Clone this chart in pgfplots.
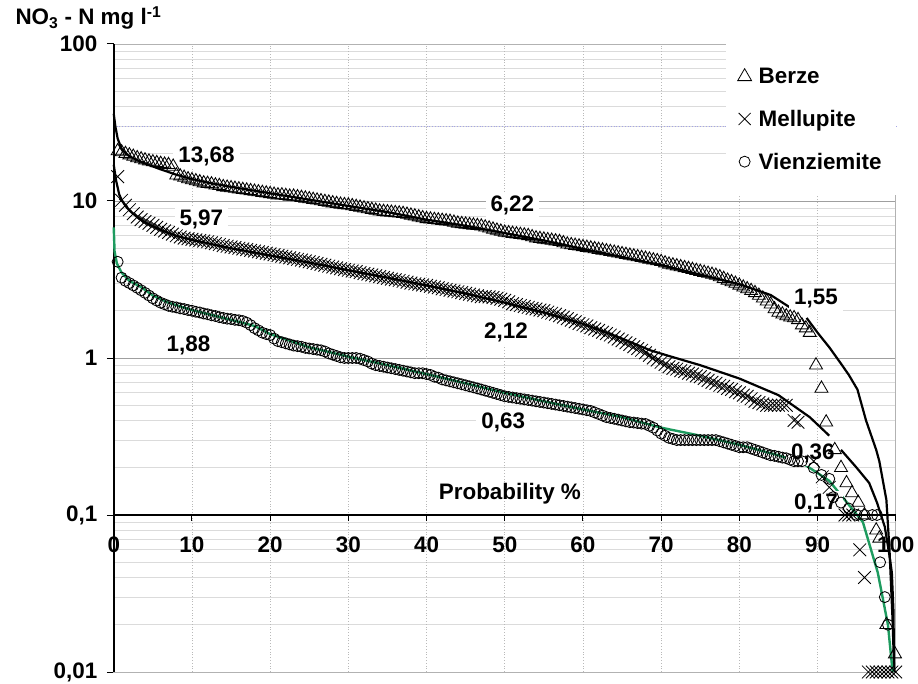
\documentclass[border=0pt]{standalone}
\usepackage{pgfplots}
\pgfplotsset{compat=1.18}
\usepackage{pgfplotstable}
\usepackage{fontspec}
\setmainfont{Liberation Sans}
\definecolor{fitgreen}{RGB}{30,155,95}
\definecolor{bluegrid}{RGB}{165,165,230}
\newcommand{\lbl}{\bfseries\fontsize{22.5}{26}\selectfont}

\pgfplotstableread{
x y
0.5 20.8
1 20.5
2 19.6
3 18.8
4 18.2
5 17.7
6 17.3
7 17.0
7.6 16.6
8 14.6
9 14.1
10 13.6
11 13.2
12 12.9
13 12.6
14 12.3
15 12.1
16 11.9
17 11.7
18 11.5
19 11.3
20 11.1
21 10.9
22 10.8
23 10.7
24 10.5
25 10.3
26 10.1
27 9.9
28 9.7
29 9.5
30 9.4
31 9.2
32 9.0
33 8.8
34 8.6
35 8.5
36 8.4
37 8.3
38 8.1
39 7.9
40 7.7
41 7.6
42 7.5
43 7.4
44 7.2
45 7.1
46 7.0
47 6.9
48 6.7
49 6.5
50 6.3
51 6.2
52 6.1
53 6.0
54 5.8
55 5.7
56 5.6
57 5.5
58 5.3
59 5.2
60 5.1
61 5.0
62 4.9
63 4.8
64 4.7
65 4.6
66 4.5
67 4.4
68 4.3
69 4.2
70 4.1
71 3.95
72 3.85
73 3.75
74 3.65
75 3.55
76 3.45
77 3.35
78 3.2
79 3.05
80 2.9
81 2.75
82 2.6
83 2.4
84 2.2
85 1.95
86 1.85
87 1.8
88 1.62
89 1.45
89.8 0.9
90.5 0.64
91.1 0.39
92.2 0.26
93 0.2
93.7 0.16
94.4 0.138
95.2 0.12
96 0.1
97.5 0.08
97.9 0.071
98.8 0.02
99.9 0.013
}\berze

\pgfplotstableread{
x y
1.5 20.0
2.5 19.2
3.5 18.5
4.5 17.9
5.5 17.5
6.5 17.1
8.5 14.4
9.5 13.8
10.5 13.4
11.5 13.0
12.5 12.8
13.5 12.5
14.5 12.2
15.5 12.0
16.5 11.8
17.5 11.6
18.5 11.4
19.5 11.2
20.5 11.0
21.5 10.9
22.5 10.7
23.5 10.6
24.5 10.4
25.5 10.2
26.5 10.0
27.5 9.8
28.5 9.6
29.5 9.45
30.5 9.3
31.5 9.1
32.5 8.9
33.5 8.7
34.5 8.55
35.5 8.45
36.5 8.35
37.5 8.2
38.5 8.0
39.5 7.8
40.5 7.65
41.5 7.55
42.5 7.45
43.5 7.3
44.5 7.15
45.5 7.05
46.5 6.95
47.5 6.8
48.5 6.6
49.5 6.4
50.5 6.25
51.5 6.15
52.5 6.05
53.5 5.9
54.5 5.75
55.5 5.65
56.5 5.55
57.5 5.4
58.5 5.25
59.5 5.15
60.5 5.05
61.5 4.95
62.5 4.85
63.5 4.75
64.5 4.65
65.5 4.55
66.5 4.45
67.5 4.35
68.5 4.25
69.5 4.15
70.5 4.02
71.5 3.9
72.5 3.8
73.5 3.7
74.5 3.6
75.5 3.5
76.5 3.4
77.5 3.28
78.5 3.12
79.5 2.98
80.5 2.82
81.5 2.68
82.5 2.5
83.5 2.3
84.5 2.05
85.5 1.9
86.5 1.82
87.5 1.75
88.5 1.55
}\berzeB

\pgfplotstableread{
x y
0.5 14.3
1 10.1
1.5 9.4
2 8.8
2.5 8.3
3 7.9
4 7.4
5 7.0
6 6.6
7 6.3
8 6.0
9 5.8
10 5.7
11 5.6
12 5.5
13 5.35
14 5.2
15 5.1
16 5.0
17 4.9
18 4.8
19 4.7
20 4.6
21 4.5
22 4.4
23 4.3
24 4.2
25 4.1
26 4.0
27 3.9
28 3.8
29 3.7
30 3.62
31 3.55
32 3.45
33 3.38
34 3.3
35 3.22
36 3.15
37 3.08
38 3.0
39 2.95
40 2.9
41 2.83
42 2.76
43 2.7
44 2.64
45 2.58
46 2.52
47 2.46
48 2.45
49 2.4
50 2.33
51 2.22
52 2.16
53 2.1
54 2.05
55 2.0
56 1.93
57 1.86
58 1.78
59 1.7
60 1.63
61 1.56
62 1.5
63 1.43
64 1.36
65 1.29
66 1.22
67 1.15
68 1.08
69 1.0
70 0.94
71 0.88
72 0.85
73 0.82
74 0.79
75 0.76
76 0.72
77 0.69
78 0.66
79 0.63
80 0.6
81 0.57
82 0.53
83 0.51
84 0.5
85 0.5
86 0.5
87 0.4
87.5 0.39
89.5 0.22
90.6 0.175
91.5 0.15
93.5 0.1
94 0.1
94.5 0.1
95.4 0.06
96 0.04
96.5 0.01
97 0.01
97.5 0.01
98 0.01
98.5 0.01
99 0.01
99.5 0.01
100 0.01
}\mellupite

\pgfplotstableread{
x y
3.5 7.6
4.5 7.2
5.5 6.8
6.5 6.45
7.5 6.15
8.5 5.9
9.5 5.75
10.5 5.65
11.5 5.55
12.5 5.42
13.5 5.28
14.5 5.15
15.5 5.05
16.5 4.95
17.5 4.85
18.5 4.75
19.5 4.65
20.5 4.55
21.5 4.45
22.5 4.35
23.5 4.25
24.5 4.15
25.5 4.05
26.5 3.95
27.5 3.85
28.5 3.75
29.5 3.66
30.5 3.58
31.5 3.5
32.5 3.42
33.5 3.34
34.5 3.26
35.5 3.18
36.5 3.12
37.5 3.04
38.5 2.97
39.5 2.92
40.5 2.86
41.5 2.8
42.5 2.73
43.5 2.67
44.5 2.61
45.5 2.55
46.5 2.49
47.5 2.46
48.5 2.43
49.5 2.37
50.5 2.28
51.5 2.19
52.5 2.13
53.5 2.07
54.5 2.02
55.5 1.96
56.5 1.9
57.5 1.82
58.5 1.74
59.5 1.66
60.5 1.6
61.5 1.53
62.5 1.46
63.5 1.4
64.5 1.32
65.5 1.25
66.5 1.18
67.5 1.12
68.5 1.04
69.5 0.97
70.5 0.91
71.5 0.86
72.5 0.83
73.5 0.8
74.5 0.77
75.5 0.74
76.5 0.7
77.5 0.67
78.5 0.64
79.5 0.61
80.5 0.58
81.5 0.55
82.5 0.52
83.5 0.5
84.5 0.5
85.5 0.5
}\mellupiteB

\pgfplotstableread{
x y
0.5 4.1
1 3.25
1.5 3.1
2 3.0
2.5 2.9
3 2.8
3.5 2.7
4 2.6
4.5 2.5
5 2.4
6 2.25
7 2.15
8 2.1
9 2.05
10 2.0
11 1.95
12 1.9
13 1.85
14 1.8
15 1.77
16 1.74
17 1.68
18 1.55
19 1.45
20 1.4
21 1.28
22 1.24
23 1.2
24 1.18
25 1.15
26 1.13
27 1.1
28 1.05
29 1.01
30 1.0
31 1.0
32 0.97
33 0.92
34 0.89
35 0.87
36 0.85
37 0.83
38 0.81
39 0.8
40 0.79
41 0.76
42 0.73
43 0.71
44 0.69
45 0.67
46 0.65
47 0.63
48 0.61
49 0.59
50 0.57
51 0.56
52 0.55
53 0.54
54 0.53
55 0.52
56 0.51
57 0.5
58 0.49
59 0.48
60 0.47
61 0.46
62 0.44
63 0.42
64 0.41
65 0.4
66 0.39
67 0.385
68 0.38
69 0.36
70 0.33
71 0.31
72 0.3
73 0.3
74 0.3
75 0.3
76 0.3
77 0.3
78 0.29
79 0.28
80 0.27
81 0.27
82 0.26
83 0.25
84 0.24
85 0.235
86 0.23
87 0.22
88 0.22
89.5 0.2
90.5 0.18
91.5 0.17
92 0.13
93 0.12
94 0.11
95 0.1
96 0.1
97 0.1
97.6 0.1
98 0.05
98.6 0.03
99 0.02
}\vienz

\pgfplotstableread{
x y
5.5 2.32
6.5 2.2
7.5 2.12
8.5 2.07
9.5 2.02
10.5 1.97
11.5 1.92
12.5 1.87
13.5 1.82
14.5 1.78
15.5 1.75
16.5 1.72
17.5 1.62
18.5 1.5
19.5 1.42
20.5 1.33
21.5 1.26
22.5 1.22
23.5 1.19
24.5 1.16
25.5 1.14
26.5 1.12
27.5 1.07
28.5 1.03
29.5 1.0
30.5 1.0
31.5 0.99
32.5 0.95
33.5 0.9
34.5 0.88
35.5 0.86
36.5 0.84
37.5 0.82
38.5 0.8
39.5 0.8
40.5 0.78
41.5 0.75
42.5 0.72
43.5 0.7
44.5 0.68
45.5 0.66
46.5 0.64
47.5 0.62
48.5 0.6
49.5 0.58
50.5 0.565
51.5 0.555
52.5 0.545
53.5 0.535
54.5 0.525
55.5 0.515
56.5 0.505
57.5 0.495
58.5 0.485
59.5 0.475
60.5 0.465
61.5 0.45
62.5 0.43
63.5 0.415
64.5 0.405
65.5 0.395
66.5 0.388
67.5 0.382
68.5 0.37
69.5 0.345
70.5 0.32
71.5 0.305
72.5 0.3
73.5 0.3
74.5 0.3
75.5 0.3
76.5 0.3
77.5 0.295
78.5 0.285
79.5 0.275
80.5 0.27
81.5 0.265
82.5 0.255
83.5 0.245
84.5 0.238
85.5 0.232
86.5 0.225
87.5 0.22
}\vienzB

\pgfplotstableread{
x y
0 36
0.2 30
0.5 25
1 21.5
1.5 20.2
2 19.3
3 18.2
4 17.3
5 16.6
6 15.9
7 15.3
8 14.7
10 13.8
12 13.1
15 12.3
20 11.2
25 10.2
30 9.3
35 8.5
40 7.6
45 6.95
50 6.25
55 5.6
60 4.95
65 4.4
70 3.9
75 3.4
80 2.95
84 2.52
86.4 2.11
}\berzefitA

\pgfplotstableread{
x y
88.6 1.8
90 1.45
91.5 1.17
93 0.92
94 0.78
95.1 0.63
96.2 0.40
97.5 0.26
97.9 0.22
98.8 0.125
99.2 0.06
99.6 0.021
99.8 0.01
}\berzefitB

\pgfplotstableread{
x y
0 17
0.3 13.5
0.7 11
1 10.2
1.5 9.3
2 8.7
3 7.9
4 7.3
5 6.9
6 6.55
7 6.25
8 6.0
10 5.65
15 5.0
20 4.5
25 4.05
30 3.62
35 3.25
40 2.9
45 2.57
50 2.25
55 1.95
60 1.65
65 1.33
68.6 1.12
71 1.03
75 0.9
80 0.74
85 0.58
89 0.42
91.5 0.32
}\mellfitA

\pgfplotstableread{
x y
93 0.26
95 0.2
96.6 0.16
97.6 0.12
98.6 0.084
99.2 0.055
99.5 0.043
99.7 0.025
99.8 0.01
}\mellfitB

\pgfplotstableread{
x y
0 6.8
0.1 4.8
0.4 4.0
1 3.5
2 3.1
3.5 2.83
5 2.5
7 2.25
10 2.02
15 1.75
18 1.6
20 1.42
25 1.17
30 1.02
35 0.9
40 0.79
45 0.69
50 0.6
55 0.53
60 0.47
65 0.42
70 0.36
75 0.32
80 0.28
85 0.24
88 0.215
90 0.185
91.5 0.165
93.2 0.13
95.8 0.09
97.7 0.043
99 0.02
99.6 0.01
}\vienzfit

\begin{document}
\begin{tikzpicture}
\path[use as bounding box] (-113.75bp,-12bp) rectangle (804.25bp,672bp);
\begin{axis}[
  at={(0,0)}, anchor=south west,
  scale only axis, width=782bp, height=628bp,
  xmin=0, xmax=100, ymin=0.01, ymax=100, ymode=log,
  clip=false,
  axis line style={draw=gray!60, line width=0.8bp},
  xtick=\empty,
  ytick={0.01,0.1,1,10,100},
  yticklabels={{0,01},{0,1},1,10,100},
  ytick pos=left, tick align=outside,
  major tick length=7bp, minor tick length=0pt,
  tick style={black, line width=1bp},
  ymajorgrids, yminorgrids,
  major grid style={gray!75, line width=0.8bp},
  minor grid style={gray!28, line width=0.7bp},
  yticklabel style={font=\lbl, xshift=-6bp},
  /pgf/number format/assume math mode=true,
  legend style={at={(rel axis cs:1,1)}, anchor=north east, draw=none, fill=white,
    inner xsep=12bp, inner ysep=22bp, row sep=21bp, font=\lbl},
  legend cell align=left,
  legend image code/.code={\path[draw=none] (0bp,0bp) -- (18bp,0bp);
    \path[#1, draw=none] plot[only marks] coordinates {(6bp,0bp)};},
]
\pgfplotsinvokeforeach{10,20,30,40,50,60,70,80,90}{
  \draw[gray!55, dotted, line width=0.8bp] (axis cs:#1,0.01) -- (axis cs:#1,100);
}
\addplot[forget plot, draw=bluegrid, dotted, line width=0.8bp] coordinates {(0,30) (100,30)};
\draw[black, line width=1.8bp] (rel axis cs:0,0) -- (rel axis cs:0,1);

\addplot[forget plot, only marks, mark=triangle, mark size=7.5bp, black, mark options={line width=0.85bp}] table {\berze};
\addplot[forget plot, only marks, mark=triangle, mark size=7.5bp, black, mark options={line width=0.85bp}] table {\berzeB};
\addplot[forget plot, only marks, mark=x, mark size=9bp, black, mark options={line width=0.85bp}] table {\mellupite};
\addplot[forget plot, only marks, mark=x, mark size=9bp, black, mark options={line width=0.85bp}] table {\mellupiteB};
\addplot[forget plot, only marks, mark=o, mark size=5.5bp, black, mark options={line width=0.85bp}] table {\vienz};
\addplot[forget plot, only marks, mark=o, mark size=5.5bp, black, mark options={line width=0.85bp}] table {\vienzB};

\addplot[forget plot, black, line width=2.2bp] table {\berzefitA};
\addplot[forget plot, black, line width=2.2bp] table {\berzefitB};
\addplot[forget plot, black, line width=2.2bp] table {\mellfitA};
\addplot[forget plot, black, line width=2.2bp] table {\mellfitB};
\addplot[forget plot, fitgreen, line width=2.4bp] table {\vienzfit};

\addlegendimage{mark=triangle, mark size=8bp, black, mark options={line width=0.8bp}}
\addlegendentry{Berze}
\addlegendimage{mark=x, mark size=8.5bp, black, mark options={line width=0.8bp}}
\addlegendentry{Mellupite}
\addlegendimage{mark=o, mark size=5.5bp, black, mark options={line width=0.8bp}}
\addlegendentry{Vienziemite}

\tikzset{lab/.style={fill=white, inner xsep=5bp, inner ysep=3bp, font=\lbl}}
\node[lab] at (axis cs:11.86,19.35) {13,68};
\node[lab] at (axis cs:11.2,7.68) {5,97};
\node[lab] at (axis cs:9.55,1.20) {1,88};
\node[lab] at (axis cs:50.97,9.36) {6,22};
\node[lab] at (axis cs:50.15,1.454) {2,12};
\node[lab] at (axis cs:49.8,0.388) {0,63};
\node[lab] at (axis cs:89.8,2.39) {1,55};
\node[lab] at (axis cs:89.4,0.246) {0,36};
\node[lab] at (axis cs:89.8,0.119) {0,17};
\node[font=\lbl] at (axis cs:50.66,0.136) {Probability \%};
\end{axis}

\begin{axis}[
  at={(0,157bp)}, anchor=south west,
  scale only axis, width=782bp, height=471bp,
  xmin=0, xmax=100, ymin=0, ymax=1,
  axis x line=bottom, axis y line=none,
  x axis line style={-, black, line width=1.6bp},
  xtick={0,10,...,100},
  tick align=outside, major tick length=6bp,
  tick style={black, line width=1bp},
  xticklabel style={font=\lbl, yshift=-12bp},
  /pgf/number format/assume math mode=true,
]
\end{axis}

\node[anchor=west, font=\lbl] at (-101.75bp,654bp) {NO\textsubscript{3} - N mg l\textsuperscript{-1}};
\end{tikzpicture}
\end{document}
